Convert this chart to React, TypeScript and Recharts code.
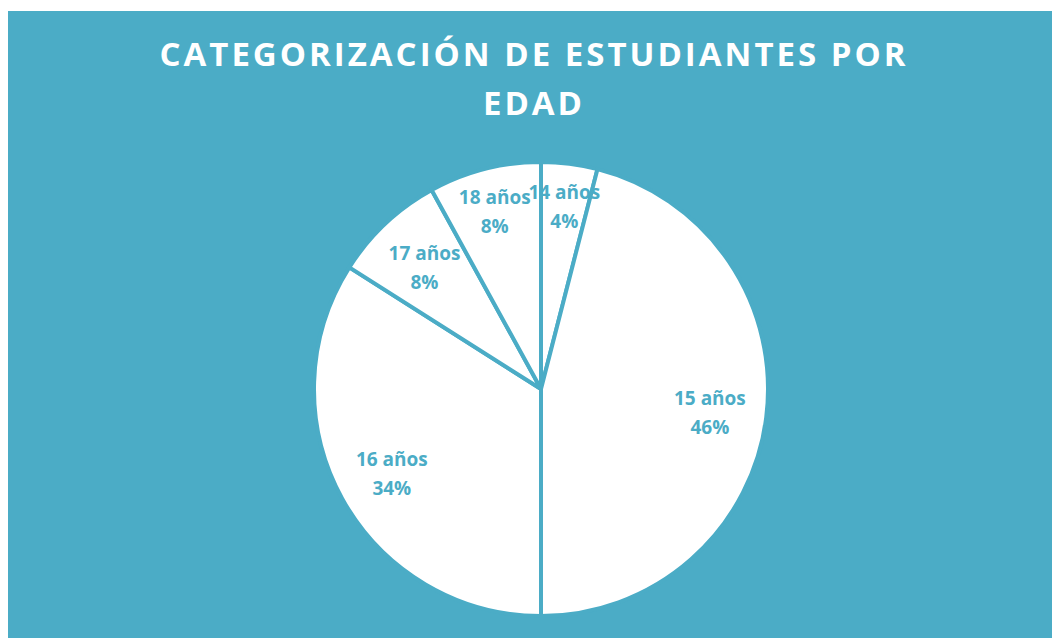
import { PieChart, Pie, Cell } from 'recharts'

const ages = ['14 años', '15 años', '16 años', '17 años', '18 años']
const percents = [4, 46, 34, 8, 8]

const TEAL = '#4BACC6'
const FONT = '"Open Sans", "Noto Sans", sans-serif'

const data = ages.map((name, i) => ({ name, value: percents[i] }))

const RADIAN = Math.PI / 180

// etiquetas dentro de cada sector (las de arriba un poco más afuera)
const renderLabel = (props: any) => {
  const { cx, cy, midAngle, outerRadius, name, value } = props
  const ang = ((midAngle % 360) + 360) % 360
  const nearTop = ang > 60 && ang < 120
  const ratio = nearTop ? 0.82 : 0.75
  const r = outerRadius * ratio
  const x = cx + r * Math.cos(-midAngle * RADIAN)
  const y = cy + r * Math.sin(-midAngle * RADIAN)
  return (
    <text
      x={x}
      y={y}
      fill={TEAL}
      textAnchor="middle"
      fontFamily={FONT}
      fontWeight={700}
      fontSize={19}
    >
      <tspan x={x} dy={-5}>{name}</tspan>
      <tspan x={x} dy={29}>{`${value}%`}</tspan>
    </text>
  )
}

export default function App() {
  return (
    <div
      style={{
        position: 'relative',
        width: 1052,
        height: 627,
        marginTop: 3,
        background: TEAL,
      }}
    >
      <div
        style={{
          position: 'absolute',
          left: 0,
          top: 18,
          width: 1052,
          textAlign: 'center',
          color: '#ffffff',
          fontFamily: FONT,
          fontWeight: 700,
          fontSize: 33,
          letterSpacing: 3,
          lineHeight: '49px',
        }}
      >
        <div>CATEGORIZACIÓN DE ESTUDIANTES POR</div>
        <div>EDAD</div>
      </div>
      <div style={{ position: 'absolute', left: 0, top: 0 }}>
        <PieChart width={1052} height={627} margin={{ top: 0, right: 0, bottom: 0, left: 0 }}>
          <Pie
            data={data}
            dataKey="value"
            nameKey="name"
            cx={533}
            cy={378}
            outerRadius={227}
            startAngle={90}
            endAngle={-270}
            stroke={TEAL}
            strokeWidth={4}
            labelLine={false}
            label={renderLabel}
            isAnimationActive={false}
          >
            {data.map((d) => (
              <Cell key={d.name} fill="#ffffff" />
            ))}
          </Pie>
        </PieChart>
      </div>
    </div>
  )
}
